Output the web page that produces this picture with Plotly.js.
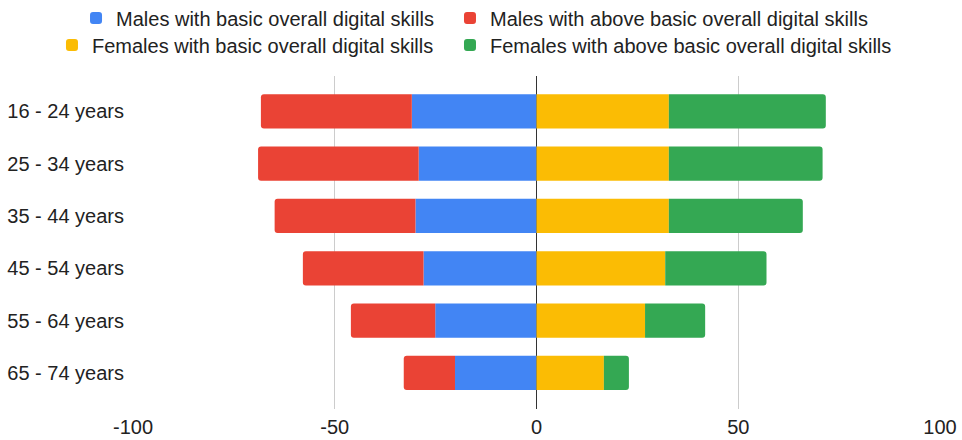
<!DOCTYPE html>
<html>
<head>
<meta charset="utf-8">
<script src="https://cdn.plot.ly/plotly-3.0.1.min.js"></script>
<style>html,body{margin:0;padding:0;background:#fff}#chart{width:962px;height:440px}</style>
</head>
<body>
<div id="chart"></div>
<script>
const categories = ["16 - 24 years", "25 - 34 years", "35 - 44 years", "45 - 54 years", "55 - 64 years", "65 - 74 years"];
const malesBasic = [-30.9, -29.2, -30.0, -28.0, -25.1, -20.2];
const malesAbove = [-37.4, -39.8, -34.9, -29.9, -20.9, -12.7];
const femalesBasic = [32.8, 32.8, 32.8, 31.9, 26.9, 16.7];
const femalesAbove = [38.9, 38.1, 33.2, 25.1, 14.9, 6.2];
const seriesNames = [
  "Males with basic overall digital skills",
  "Males with above basic overall digital skills",
  "Females with basic overall digital skills",
  "Females with above basic overall digital skills"
];
const xTicks = [-100, -50, 0, 50, 100];

const font = "Liberation Sans, Arial, sans-serif";
function bar(vals, name, color, legend) {
  return {type: "bar", orientation: "h", y: categories, x: vals, name: name,
    marker: {color: color, line: {width: 0}}, width: 0.655, legend: legend, hoverinfo: "x+name"};
}
const data = [
  bar(malesBasic, seriesNames[0], "#4285F4", "legend"),
  bar(malesAbove, seriesNames[1], "#EA4335", "legend2"),
  bar(femalesBasic, seriesNames[2], "#FBBC04", "legend3"),
  bar(femalesAbove, seriesNames[3], "#34A853", "legend4")
];
function leg(x, y) {
  return {orientation: "v", font: {family: font, size: 20, color: "#222"},
    bgcolor: "rgba(0,0,0,0)", xanchor: "left", yanchor: "middle", x: x, y: y,
    tracegroupgap: 0, traceorder: "normal"};
}
const layout = {
  width: 962, height: 440,
  margin: {l: 133, r: 22, t: 76, b: 31, autoexpand: false},
  paper_bgcolor: "#fff", plot_bgcolor: "#fff",
  barmode: "relative",
  barcornerradius: 3,
  font: {family: font, size: 20, color: "#222"},
  xaxis: {range: [-100, 100], tickvals: xTicks, ticktext: xTicks.map(String),
    showgrid: true, gridcolor: "#cccccc", gridwidth: 1,
    zeroline: true, zerolinecolor: "#333333", zerolinewidth: 1.5,
    ticks: "", ticklabelstandoff: 4, fixedrange: true},
  yaxis: {type: "category", range: [5.69, -0.675], showgrid: false, zeroline: false,
    ticks: "", ticklabelstandoff: 8, fixedrange: true},
  legend: leg(-0.0706, 1.174),
  legend2: leg(0.3928, 1.174),
  legend3: leg(-0.1004, 1.093),
  legend4: leg(0.3928, 1.093),
  showlegend: true
};
Plotly.newPlot("chart", data, layout, {displayModeBar: false, staticPlot: true});
</script>
</body>
</html>
